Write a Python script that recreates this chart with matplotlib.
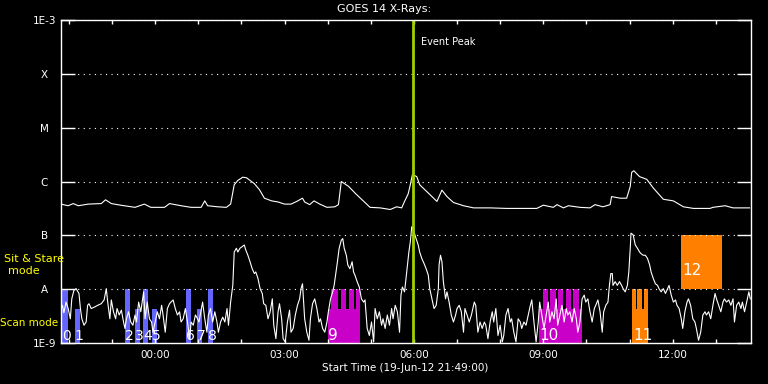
import numpy as np
import matplotlib
matplotlib.use('Agg')
import matplotlib.pyplot as plt
from matplotlib.ticker import NullLocator

plt.rcParams['font.family'] = ['DejaVu Sans']

# time axis: minutes after 19-Jun-12 21:49:00, 16 h window
hour_ticks = [11, 71, 131, 191, 251, 311, 371, 431, 491, 551, 611, 671, 731, 791, 851, 911]
label_ticks = [131, 311, 491, 671, 851]
label_text = ['00:00', '03:00', '06:00', '09:00', '12:00']

flux_ticks = [1e-9, 1e-8, 1e-7, 1e-6, 1e-5, 1e-4, 1e-3]
flux_labels = ['1E-9', 'A', 'B', 'C', 'M', 'X', '1E-3']

# long channel (1-8 A), log10 flux
long_t = [0, 10, 17, 24, 38, 56, 62, 70, 83, 103, 116, 125, 144, 151, 167, 181, 195, 200, 204, 218,
          230, 236, 241, 246, 253, 258, 269, 276, 283, 293, 302, 311, 320, 328, 336, 339, 346, 352, 360, 370,
          381, 386, 390, 400, 411, 430, 444, 458, 467, 474, 478, 483, 485, 489, 495, 499, 513, 523, 530, 537,
          546, 560, 574, 597, 620, 643, 662, 671, 685, 690, 699, 706, 722, 736, 743, 754, 764, 766, 778, 787,
          792, 794, 797, 805, 815, 824, 838, 852, 866, 880, 903, 907, 924, 935, 958]
long_log = [-6.42, -6.45, -6.41, -6.45, -6.42, -6.41, -6.34, -6.41, -6.44, -6.48, -6.42, -6.48, -6.48, -6.41, -6.45,
            -6.48, -6.48, -6.36, -6.45, -6.47, -6.48, -6.42, -6.06, -5.98, -5.92, -5.93, -6.04, -6.15, -6.31, -6.36,
            -6.38, -6.42, -6.42, -6.37, -6.31, -6.38, -6.43, -6.36, -6.42, -6.48, -6.47, -6.43, -6.00, -6.09, -6.24,
            -6.48, -6.49, -6.52, -6.47, -6.49, -6.37, -6.23, -6.12, -5.87, -5.91, -6.06, -6.24, -6.37, -6.16, -6.28,
            -6.39, -6.45, -6.49, -6.49, -6.50, -6.50, -6.50, -6.44, -6.48, -6.43, -6.49, -6.45, -6.48, -6.49, -6.43,
            -6.47, -6.43, -6.28, -6.31, -6.31, -6.09, -5.83, -5.80, -5.91, -5.96, -6.12, -6.33, -6.36, -6.47, -6.50,
            -6.50, -6.48, -6.45, -6.49, -6.49]

# short channel (0.5-4 A), log10 flux
short_t = [0, 2, 4, 7, 10, 13, 15, 18, 21, 25, 27, 29, 32, 35, 37, 39, 42, 47, 51, 56,
           60, 63, 65, 68, 70, 73, 76, 78, 81, 84, 87, 89, 91, 94, 97, 100, 103, 105, 108, 111,
           115, 117, 120, 123, 126, 128, 131, 134, 137, 140, 142, 145, 148, 151, 153, 156, 159, 162, 165, 167,
           170, 173, 176, 179, 181, 184, 187, 190, 192,
           197, 200, 203, 205, 208, 211, 214, 217, 219, 222, 225, 228, 231, 233, 236, 239, 241, 244, 246, 249,
           252, 255, 257, 260, 263, 266, 269, 271, 274, 277, 280, 282, 285, 288, 291, 294, 296, 299, 302, 304,
           307, 309, 312, 315, 318, 320, 323, 326, 329, 332, 334, 336, 339, 342, 345, 347, 350, 353, 356, 359,
           361, 364, 367, 370, 372, 375, 378,
           380, 384, 387, 390, 392, 394, 397, 399, 402, 405, 407, 409, 412, 415, 418, 421, 423, 426, 429, 432,
           435, 437, 440, 443, 446, 448, 451, 454, 457, 460, 462, 465, 468, 471, 473, 475, 478, 481, 484, 486,
           488, 491, 494, 497, 499, 502, 505, 508, 511, 513, 516, 519, 522, 525, 526, 528, 530, 532, 535, 537,
           540, 543, 546, 549, 551, 554, 557, 560, 562, 565, 568, 571,
           575, 577, 580, 583, 586, 589, 591, 594, 597, 600, 602, 605, 608, 611, 614, 616, 619, 622, 625, 627,
           630, 633, 636, 639, 641, 644, 647, 650, 653, 655, 658, 661, 664, 666, 669, 672, 675, 678, 680, 683,
           686, 689, 691, 694, 697, 700, 703, 705, 708, 711, 714, 717, 719, 722, 725, 728, 730, 733, 736, 739,
           742, 744, 747, 750, 753, 755, 758, 761, 763,
           765, 767, 768, 771, 774, 777, 780, 782, 785, 788, 790, 792, 793, 796, 799, 802, 805, 807, 810, 813,
           816, 819, 821, 824, 827, 830, 832, 835, 838, 841, 844, 846, 849, 852, 855, 857, 860, 863, 865, 868,
           871, 873, 876, 879, 882, 884, 887, 890, 893, 896, 898, 901, 904, 907, 910, 912, 915, 918, 921, 923,
           926, 929, 932, 935, 937, 940, 943, 946, 948, 951, 954, 957, 959]
short_log = [-8.37, -8.30, -8.44, -8.24, -8.36, -8.55, -8.18, -8.02, -7.99, -8.08, -8.36, -8.55, -8.67, -8.61, -8.30,
             -8.27, -8.36, -8.33, -8.30, -8.27, -8.20, -7.99, -8.24, -8.55, -8.20, -8.42, -8.55, -8.36, -8.48, -8.39,
             -8.61, -8.73, -8.55, -8.42, -8.61, -8.67, -8.48, -8.61, -8.24, -8.42, -8.05, -8.55, -8.24, -8.55, -8.61,
             -8.80, -8.61, -8.42, -8.55, -8.30, -8.48, -8.80, -8.36, -8.27, -8.24, -8.20, -8.36, -8.48, -8.42, -8.61,
             -8.55, -8.36, -8.61, -8.92, -8.61, -8.67, -8.48, -8.55, -8.61,
             -8.24, -8.55, -8.80, -8.48, -8.36, -8.61, -8.42, -8.61, -8.80, -8.61, -8.52, -8.61, -8.36, -8.67, -8.24,
             -7.93, -7.31, -7.24, -7.31, -7.24, -7.21, -7.18, -7.27, -7.37, -7.49, -7.62, -7.71, -7.68, -7.80, -7.99,
             -8.08, -8.27, -8.30, -8.55, -8.42, -8.18, -8.67, -8.92, -8.42, -8.27, -8.55, -8.92, -8.98, -8.61, -8.39,
             -8.80, -8.73, -8.48, -8.30, -8.18, -7.99, -7.90, -8.55, -8.80, -8.95, -8.55, -8.27, -8.18, -8.36, -8.61,
             -8.55, -8.73, -8.80, -8.61, -8.42, -8.18, -8.05,
             -7.93, -7.55, -7.24, -7.09, -7.06, -7.24, -7.37, -7.55, -7.62, -7.49, -7.68, -7.74, -7.86, -7.96, -8.18,
             -8.24, -8.20, -8.73, -8.86, -8.61, -8.98, -8.36, -8.55, -8.42, -8.67, -8.55, -8.73, -8.48, -8.67, -8.36,
             -8.55, -8.30, -8.42, -8.80, -8.11, -7.96, -8.05, -7.68, -7.31, -7.12, -6.84, -6.93, -7.06, -7.18, -7.31,
             -7.43, -7.52, -7.62, -7.74, -7.99, -8.18, -8.36, -8.30, -7.99, -7.55, -7.37, -7.49, -7.86, -8.18, -8.05,
             -8.24, -8.48, -8.61, -8.48, -8.36, -8.30, -8.42, -8.80, -8.36, -8.48, -8.61, -8.48,
             -8.24, -8.30, -8.80, -8.61, -8.73, -8.61, -8.67, -8.92, -8.61, -8.42, -8.61, -8.36, -8.86, -8.67, -8.98,
             -8.86, -8.48, -8.36, -8.61, -8.55, -8.80, -8.98, -8.55, -8.61, -8.73, -8.61, -8.67, -8.48, -8.30, -8.20,
             -8.61, -8.98, -8.61, -8.24, -8.48, -8.73, -8.48, -8.24, -8.61, -8.42, -8.55, -8.18, -8.67, -8.48, -8.30,
             -8.61, -8.36, -8.48, -8.42, -8.61, -8.36, -8.55, -8.80, -8.61, -8.18, -8.11, -8.24, -8.18, -8.42, -8.61,
             -8.36, -8.30, -8.20, -8.42, -8.80, -8.42, -8.30, -8.24, -7.93,
             -7.71, -7.71, -7.93, -7.86, -7.93, -7.86, -7.93, -7.99, -8.05, -7.93, -7.68, -7.24, -6.96, -6.99, -7.18,
             -7.24, -7.31, -7.34, -7.37, -7.37, -7.43, -7.55, -7.68, -7.80, -7.90, -7.93, -7.99, -8.05, -7.99, -8.08,
             -7.99, -7.93, -8.11, -8.24, -8.20, -8.30, -8.36, -8.55, -8.73, -8.42, -8.24, -8.18, -8.30, -8.55, -8.61,
             -8.73, -8.95, -8.80, -8.48, -8.42, -8.48, -8.42, -8.55, -8.30, -8.08, -8.18, -8.30, -8.42, -8.24, -8.18,
             -8.24, -8.20, -8.30, -8.18, -8.61, -8.30, -8.24, -8.36, -8.24, -8.42, -8.24, -8.05, -8.18]

# scan mode observations (blue)
scan_id = ['0', '1', '2', '3', '4', '5', '6', '7', '8']
scan_start = [2, 19, 89, 103, 114, 126, 174, 189, 205]
scan_end = [10, 26, 96, 110, 121, 133, 181, 196, 211]
scan_top = [1e-8, 4.2e-9, 1e-8, 4.2e-9, 1e-8, 4.2e-9, 1e-8, 4.2e-9, 1e-8]

# raster observations: base span + individual tall rasters
raster_id = ['9', '10', '11']
raster_base = [(371, 416), (665, 725), (795, 816)]
raster_tall = [[(376, 386), (389, 397), (400, 408), (411, 416)],
               [(670, 678), (681, 689), (691, 699), (702, 710), (712, 720)],
               [(795, 800), (802, 809), (811, 816)]]
raster_color = ['#c800c8', '#c800c8', '#ff8000']

# sit & stare observation
stare_id = '12'
stare_span = (863, 919)

peak_time = 490

fig = plt.figure(figsize=(7.68, 3.84), dpi=100, facecolor='black')
ax = fig.add_axes([61/768, 1-343/384, 690/768, 323/384])
ax.set_facecolor('black')
ax.set_yscale('log')

base = 1e-9
for s, e, top, name in zip(scan_start, scan_end, scan_top, scan_id):
    ax.bar(s, top - base, width=e - s, bottom=base, align='edge', color='#6464ff', linewidth=0)
    ax.text(s, 1.14e-9, name, color='white', fontsize=10, ha='left', va='baseline')

for (s, e), tall, col, name in zip(raster_base, raster_tall, raster_color, raster_id):
    ax.bar(s, 4.2e-9 - base, width=e - s, bottom=base, align='edge', color=col, linewidth=0)
    for ts, te in tall:
        ax.bar(ts, 1e-8 - base, width=te - ts, bottom=base, align='edge', color=col, linewidth=0)
    ax.text(s + 1, 1.14e-9, name, color='white', fontsize=11, ha='left', va='baseline')

ax.bar(stare_span[0], 1e-7 - 1e-8, width=stare_span[1] - stare_span[0], bottom=1e-8,
       align='edge', color='#ff8000', linewidth=0)
ax.text(stare_span[0] + 2, 2.2e-8, stare_id, color='white', fontsize=11, ha='left', va='center')

ax.plot(long_t, 10**np.array(long_log), color='white', linewidth=0.8)
ax.plot(short_t, 10**np.array(short_log), color='white', linewidth=0.8)

ax.axvline(peak_time, color='#a0d000', linewidth=2)
ax.text(peak_time + 11, 3.9e-4, 'Event Peak', color='white', fontsize=7, ha='left', va='center')

ax.set_xlim(0, 960)
ax.set_ylim(1e-9, 1e-3)
ax.set_xticks(label_ticks, label_text)
ax.set_xticks(hour_ticks, minor=True)
ax.set_yticks(flux_ticks)
ax.set_yticklabels(flux_labels, ha='center')
ax.yaxis.set_minor_locator(NullLocator())
ax.tick_params(axis='y', which='major', direction='in', length=10, width=1, colors='white',
               left=True, right=True, pad=12, labelsize=7.5)
ax.tick_params(axis='x', which='both', direction='in', length=3, width=1, colors='white',
               top=True, bottom=True, pad=5, labelsize=7.5)
ax.grid(axis='y', color='white', linestyle=(0, (1, 4)), linewidth=0.8)
for sp in ax.spines.values():
    sp.set_color('white')
    sp.set_linewidth(1)

fig.text(384/768, 1-9/384, 'GOES 14 X-Rays:', color='white', fontsize=8, ha='center', va='center')
fig.text(405/768, 1-368/384, 'Start Time (19-Jun-12 21:49:00)', color='white', fontsize=7.5,
         ha='center', va='center')
fig.text(34/768, 1-259/384, 'Sit & Stare', color='yellow', fontsize=8, ha='center', va='center')
fig.text(24/768, 1-271/384, 'mode', color='yellow', fontsize=8, ha='center', va='center')
fig.text(29/768, 1-323/384, 'Scan mode', color='yellow', fontsize=7.5, ha='center', va='center')

fig.savefig('out.png', dpi=100, facecolor='black')
